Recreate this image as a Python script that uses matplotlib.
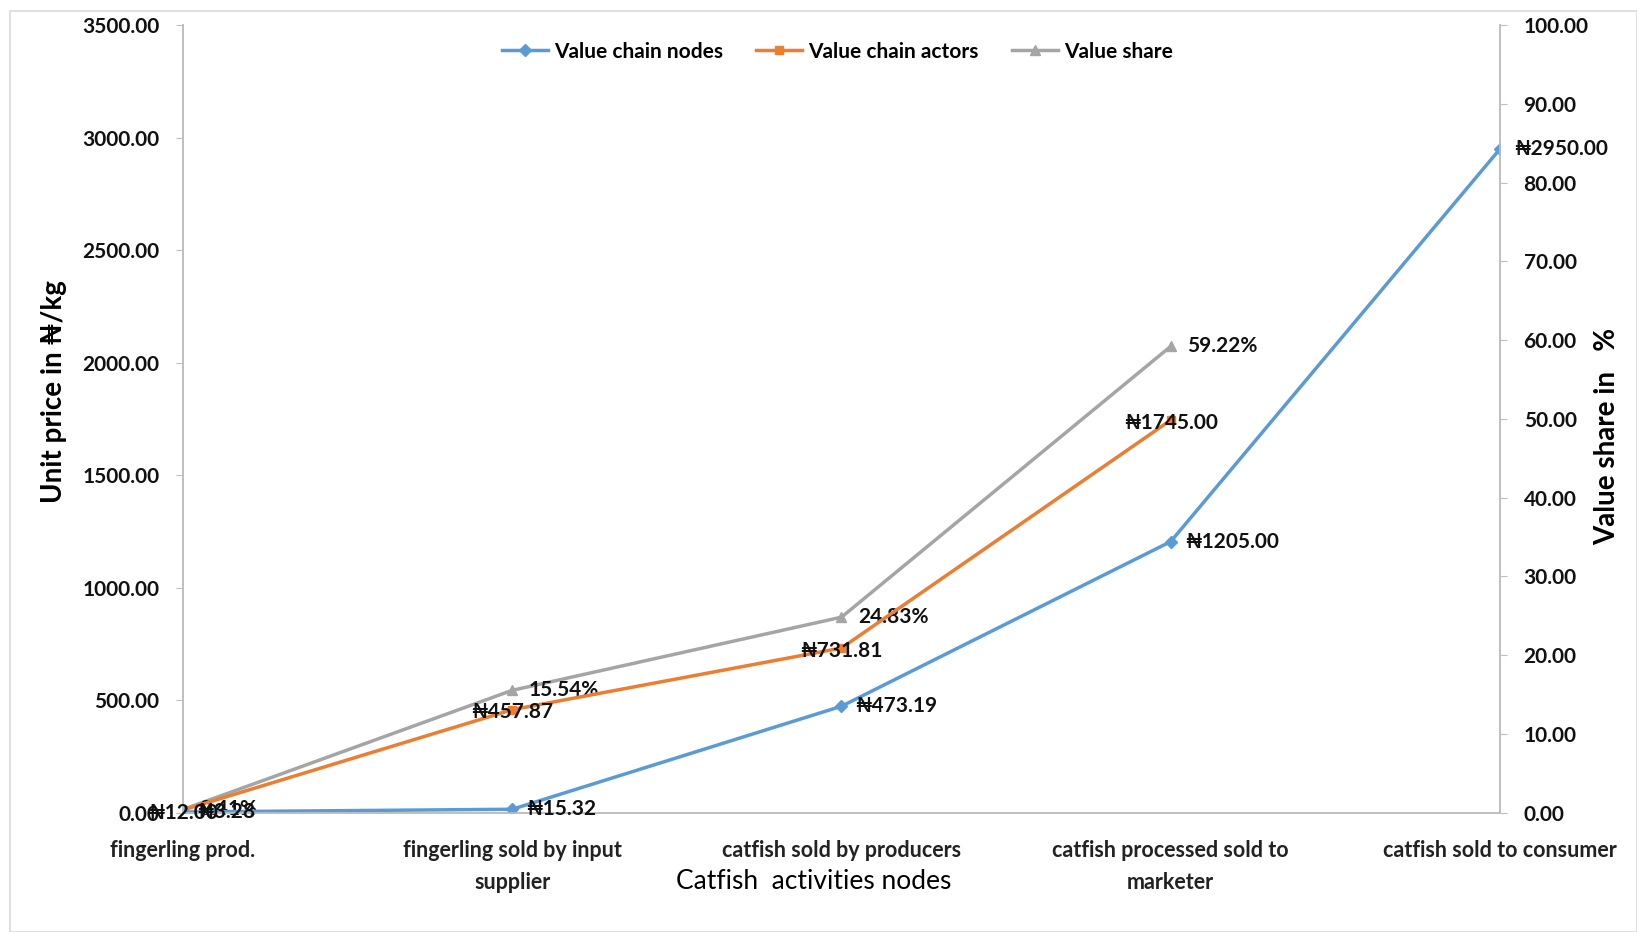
import matplotlib
matplotlib.use("Agg")
import matplotlib.pyplot as plt
from matplotlib.ticker import FormatStrFormatter, MultipleLocator
from matplotlib.patches import Rectangle

plt.rcParams['font.family'] = ['Lato', 'DejaVu Sans']

categories = ["fingerling prod.", "fingerling sold by input\nsupplier",
              "catfish sold by producers", "catfish processed sold to\nmarketer",
              "catfish sold to consumer"]
nodes = [3.28, 15.32, 473.19, 1205.00, 2950.00]
actors = [12.00, 457.87, 731.81, 1745.00]
share = [0.41, 15.54, 24.83, 59.22]

blue, orange, gray = "#5B9BD5", "#ED7D31", "#A5A5A5"

fig = plt.figure(figsize=(16.37, 9.32), dpi=100)
fig.patches.append(Rectangle((0.006, 0.0), 0.994, 0.988, transform=fig.transFigure,
                             fill=False, edgecolor="#D9D9D9", lw=1.2))
ax = fig.add_axes([0.1118, 0.128, 0.9163 - 0.1118, 0.973 - 0.128])
ax2 = ax.twinx()

x_nodes = list(range(len(nodes)))
x_act = list(range(len(actors)))
x_sh = list(range(len(share)))

l2, = ax2.plot(x_sh, share, color=gray, marker="^", ms=7, lw=2.5, label="Value share")
l1, = ax.plot(x_act, actors, color=orange, marker="s", ms=6, lw=2.5, label="Value chain actors")
l0, = ax.plot(x_nodes, nodes, color=blue, marker="D", ms=6, lw=2.5, label="Value chain nodes")
ax.set_zorder(ax2.get_zorder() + 1)
ax.patch.set_visible(False)

ax.set_xlim(0, 4)
ax.set_ylim(0, 3500)
ax2.set_ylim(0, 100)
ax.yaxis.set_major_locator(MultipleLocator(500))
ax2.yaxis.set_major_locator(MultipleLocator(10))
ax.yaxis.set_major_formatter(FormatStrFormatter("%.2f"))
ax2.yaxis.set_major_formatter(FormatStrFormatter("%.2f"))
ax.set_xticks(range(len(categories)))
ax.set_xticklabels(categories, fontsize=15.5, fontweight="bold", color="#222222",
                   linespacing=1.6)

for a in (ax, ax2):
    for s in a.spines.values():
        s.set_color("#BFBFBF")
        s.set_linewidth(1.2)
    a.spines["top"].set_visible(False)
    a.tick_params(axis="y", labelsize=15, colors="#BFBFBF", labelcolor="#111111",
                  length=5, pad=12)
ax.tick_params(axis="x", colors="#BFBFBF", labelcolor="#222222", length=0, pad=20)
for t in ax.get_yticklabels() + ax2.get_yticklabels():
    t.set_fontweight("bold")

ax.set_ylabel("Unit price in ₦/kg", fontsize=20, fontweight="bold")
ax.yaxis.set_label_coords(-0.088, 0.535)
ax2.set_ylabel("Value share in   %", fontsize=20, fontweight="bold")
ax2.yaxis.set_label_coords(1.0717, 0.478)
ax.set_xlabel("Catfish  activities nodes", fontsize=19)
ax.xaxis.set_label_coords(0.479, -0.071)

lblkw = dict(fontsize=15, fontweight="bold", color="#111111")
for xi, v in zip(x_nodes, nodes):
    ax.annotate(f"₦{v:.2f}", (xi, v), xytext=(10, 0), textcoords="offset points",
                ha="left", va="center", **lblkw)
for xi, v in zip(x_act, actors):
    ax.annotate(f"₦{v:.2f}", (xi, v), xytext=(0, -2), textcoords="offset points",
                ha="center", va="center", **lblkw)
for xi, v in zip(x_sh, share):
    ax2.annotate(f"{v:.2f}%", (xi, v), xytext=(12, 0), textcoords="offset points",
                 ha="left", va="center", **lblkw)

leg = ax.legend(handles=[l0, l1, l2], loc="upper center", bbox_to_anchor=(0.497, 1.003),
                ncol=3, frameon=False, fontsize=15, handlelength=2.2, columnspacing=1.6,
                handletextpad=0.3)
for t in leg.get_texts():
    t.set_fontweight("bold")

fig.savefig("out.png", dpi=100)
